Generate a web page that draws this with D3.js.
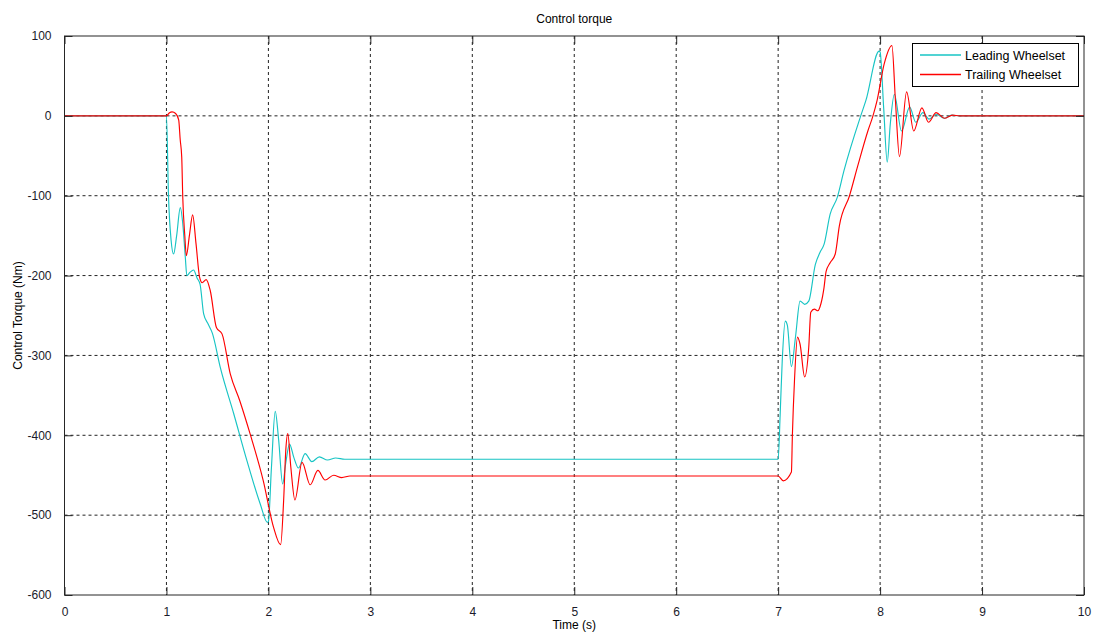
<!DOCTYPE html>
<html>
<head>
<meta charset="utf-8">
<script src="https://cdn.jsdelivr.net/npm/d3@7"></script>
<style>
  body { margin: 0; background: #fff; }
  svg { display: block; font-family: "Liberation Sans", Arial, sans-serif; }
</style>
</head>
<body>
<svg id="chart" width="1093" height="634"></svg>
<script>
// ---- Data ----
const xTicks = [0, 1, 2, 3, 4, 5, 6, 7, 8, 9, 10];
const yTicks = [100, 0, -100, -200, -300, -400, -500, -600];

const leadT = [0, 1.0, 1.02, 1.045, 1.07, 1.10, 1.136, 1.16, 1.185, 1.20, 1.23, 1.266, 1.30, 1.33, 1.365, 1.41, 1.45, 1.528, 1.66, 1.79, 1.92, 1.99, 2.0, 2.03, 2.067, 2.10, 2.14, 2.17, 2.207, 2.25, 2.295, 2.36, 2.426, 2.50, 2.58, 2.66, 2.75, 7.0, 7.02, 7.04, 7.07, 7.09, 7.13, 7.17, 7.215, 7.26, 7.30, 7.365, 7.41, 7.45, 7.51, 7.58, 7.645, 7.81, 7.86, 7.99, 8.0, 8.035, 8.07, 8.10, 8.14, 8.21, 8.29, 8.35, 8.42, 8.48, 8.55, 8.63, 8.70, 8.78, 10];
const leadV = [0, 0, -100, -155, -173, -150, -115, -135, -177, -200, -196, -193, -203, -211, -248, -261, -272, -315, -373, -432, -486, -509, -508, -440, -370, -405, -461, -435, -411, -428, -441, -423, -433, -427, -431, -428.5, -430, -430, -373, -307, -257, -262, -314, -277, -232, -236, -232, -186, -171, -161, -123, -102, -69, 0, 19, 81, 80, 10, -58, -10, 27, -19, 11, -8, 4, -4, 2, -3, 1, 0, 0];

const trailT = [0, 1.0, 1.03, 1.055, 1.09, 1.12, 1.135, 1.15, 1.16, 1.18, 1.195, 1.225, 1.257, 1.29, 1.325, 1.35, 1.39, 1.43, 1.49, 1.545, 1.626, 1.72, 1.82, 1.95, 2.05, 2.12, 2.15, 2.17, 2.19, 2.22, 2.26, 2.33, 2.41, 2.485, 2.556, 2.64, 2.72, 2.8, 7.0, 7.05, 7.13, 7.14, 7.16, 7.19, 7.215, 7.26, 7.30, 7.32, 7.355, 7.39, 7.42, 7.45, 7.47, 7.51, 7.56, 7.60, 7.70, 7.78, 7.88, 7.93, 7.97, 8.04, 8.116, 8.15, 8.19, 8.26, 8.33, 8.41, 8.475, 8.55, 8.63, 8.71, 8.78, 10];
const trailV = [0, 0, 4, 5, 3, -5, -30, -52, -102, -150, -175, -150, -124, -160, -202, -209, -205, -219, -265, -273, -323, -357, -398, -457, -515, -537, -480, -420, -398, -440, -481, -434, -462, -444, -456, -450, -453, -451, -451, -457, -446, -398, -332, -277, -286, -327, -290, -246, -242, -244, -235, -215, -195, -184, -173, -138, -100, -63, -19, 0, 19, 65, 88, 20, -51, 30, -19, 10, -8, 4, -3, 1, 0, 0];

const seriesNames = ["Leading Wheelset", "Trailing Wheelset"];
const seriesColors = ["#17c4c4", "#ff0000"];

// ---- Layout ----
const svg = d3.select("#chart");
const L = 64.5, T = 36, R = 1084, B = 595;

const x = d3.scaleLinear().domain([0, 10]).range([L, R]);
const y = d3.scaleLinear().domain([-600, 100]).range([B, T]);

// Grid
const grid = svg.append("g");
xTicks.slice(1, -1).forEach(t => {
  grid.append("line").attr("x1", x(t)).attr("x2", x(t)).attr("y1", T).attr("y2", B)
    .attr("stroke", "#222").attr("stroke-width", 1).attr("stroke-dasharray", "3,3");
});
yTicks.slice(1, -1).forEach(v => {
  grid.append("line").attr("x1", L).attr("x2", R).attr("y1", y(v)).attr("y2", y(v))
    .attr("stroke", "#222").attr("stroke-width", 1).attr("stroke-dasharray", "3,3");
});

// Lines
const line = d3.line().x(d => x(d[0])).y(d => y(d[1])).curve(d3.curveMonotoneX);
const leadData = leadT.map((t, i) => [t, leadV[i]]);
const trailData = trailT.map((t, i) => [t, trailV[i]]);
svg.append("path").datum(leadData).attr("d", line).attr("fill", "none")
  .attr("stroke", seriesColors[0]).attr("stroke-width", 1.15);
svg.append("path").datum(trailData).attr("d", line).attr("fill", "none")
  .attr("stroke", seriesColors[1]).attr("stroke-width", 1.15);

// Axes (inside ticks, box)
const tickLen = 8;
const fmt = d => String(d); // plain hyphen minus like the reference
const xAxisB = d3.axisBottom(x).tickValues(xTicks).tickSize(-tickLen).tickPadding(tickLen + 4).tickFormat(fmt);
const xAxisT = d3.axisTop(x).tickValues(xTicks).tickSize(-tickLen).tickFormat("");
const yAxisL = d3.axisLeft(y).tickValues(yTicks).tickSize(-tickLen).tickPadding(tickLen + 5).tickFormat(fmt);
const yAxisR = d3.axisRight(y).tickValues(yTicks).tickSize(-tickLen).tickFormat("");

function styleAxis(g) {
  g.select(".domain").remove();
  g.selectAll(".tick line").attr("stroke", "#262626");
  g.selectAll(".tick text").attr("fill", "#1a1a2a").style("font-size", "12px")
    .style("font-family", "'Liberation Sans', Arial, sans-serif");
}
svg.append("g").attr("transform", `translate(0,${B})`).call(xAxisB).call(styleAxis);
svg.append("g").attr("transform", `translate(0,${T})`).call(xAxisT).call(styleAxis);
svg.append("g").attr("transform", `translate(${L},0)`).call(yAxisL).call(styleAxis);
svg.append("g").attr("transform", `translate(${R},0)`).call(yAxisR).call(styleAxis);

svg.append("rect").attr("x", L).attr("y", T).attr("width", R - L).attr("height", B - T)
  .attr("fill", "none").attr("stroke", "#262626").attr("stroke-width", 1);

// Titles
svg.append("text").attr("x", (L + R) / 2).attr("y", 23).attr("text-anchor", "middle")
  .style("font-size", "12px").attr("fill", "#000").text("Control torque");
svg.append("text").attr("x", (L + R) / 2).attr("y", 629).attr("text-anchor", "middle")
  .style("font-size", "12px").attr("fill", "#000").text("Time (s)");
svg.append("text").attr("transform", `translate(22,${(T + B) / 2}) rotate(-90)`)
  .attr("text-anchor", "middle").style("font-size", "12px").attr("fill", "#000")
  .text("Control Torque (Nm)");

// Legend
const lg = svg.append("g");
lg.append("rect").attr("x", 912.5).attr("y", 43.5).attr("width", 166).attr("height", 43)
  .attr("fill", "#fff").attr("stroke", "#000").attr("stroke-width", 1);
seriesNames.forEach((name, i) => {
  const yy = 55 + i * 19.5;
  lg.append("line").attr("x1", 920).attr("x2", 961).attr("y1", yy).attr("y2", yy)
    .attr("stroke", seriesColors[i]).attr("stroke-width", 1.3);
  lg.append("text").attr("x", 965).attr("y", yy + 4.5).style("font-size", "12.5px")
    .attr("fill", "#000").text(name);
});
</script>
</body>
</html>
